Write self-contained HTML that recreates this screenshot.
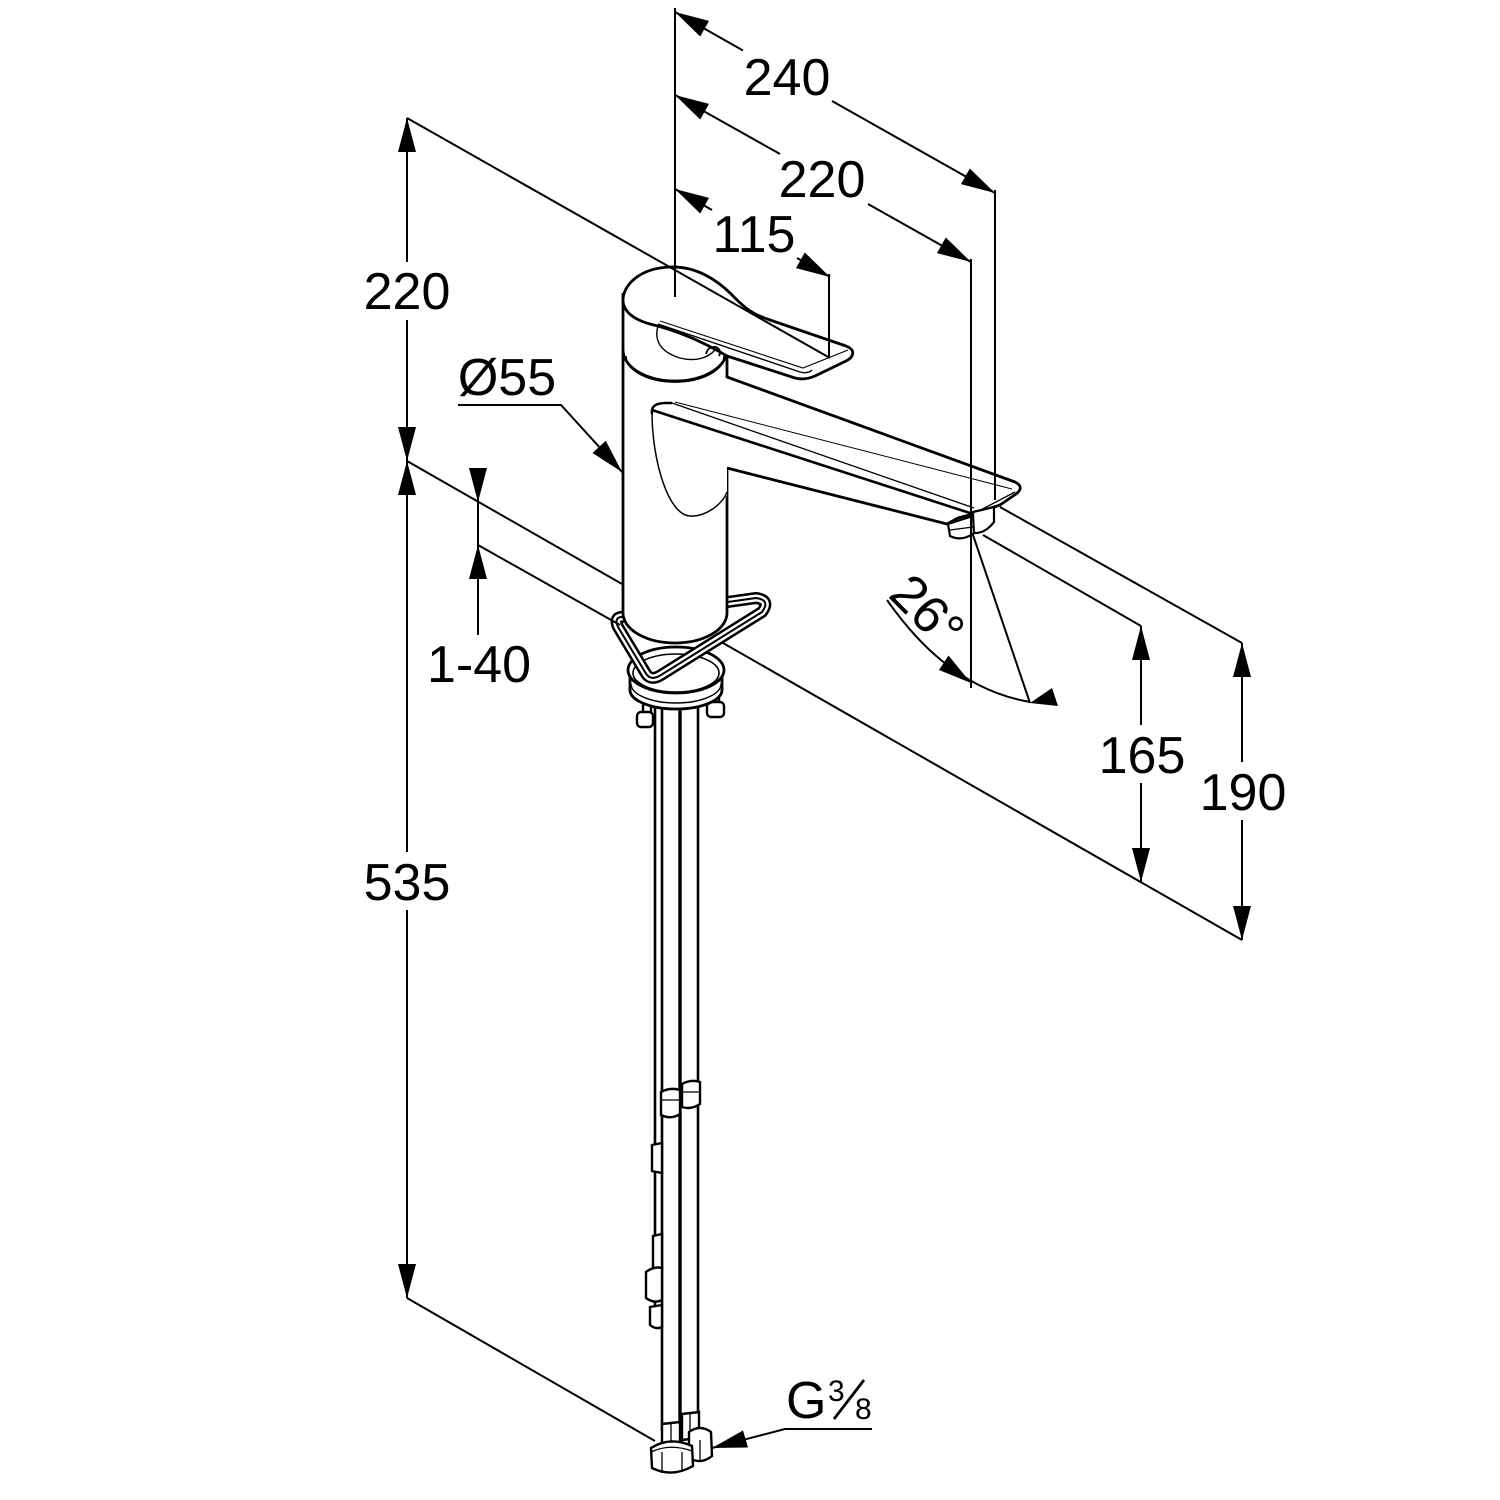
<!DOCTYPE html>
<html>
<head>
<meta charset="utf-8">
<style>
html,body{margin:0;padding:0;background:#fff;}
svg{display:block;}
text{font-family:"Liberation Sans",Arial,sans-serif;fill:#000;}
</style>
</head>
<body>
<svg width="1500" height="1500" viewBox="0 0 1500 1500" xmlns="http://www.w3.org/2000/svg">
<rect width="1500" height="1500" fill="#fff"/>

<!-- ===== pipes ===== -->
<g stroke="#000" fill="none" stroke-linecap="round">
  <line x1="655" y1="705" x2="655" y2="1327" stroke-width="2.6"/>
  <line x1="662" y1="700" x2="662" y2="1430" stroke-width="2.6"/>
  <line x1="680" y1="700" x2="680" y2="1430" stroke-width="3.4"/>
  <line x1="698" y1="700" x2="698" y2="1420" stroke-width="2.6"/>
</g>
<!-- fittings on pipes -->
<g stroke="#000" stroke-width="2.4" fill="#fff">
  <path d="M661,1092 Q670,1087 680,1090 L680,1114 Q671,1120 661,1115 Z"/>
  <line x1="661" y1="1100" x2="680" y2="1100" stroke-width="1.3"/>
  <path d="M682,1084 Q691,1079 700,1082 L700,1104 Q691,1110 682,1107 Z"/>
  <line x1="682" y1="1092" x2="700" y2="1092" stroke-width="1.3"/>
  <path d="M652,1145 L662,1143 L662,1173 L652,1171 Z"/>
  <path d="M653,1236 L662,1234 L662,1270 L653,1270 Z"/>
  <path d="M646,1272 Q654,1266 662,1268 L662,1300 Q654,1304 646,1298 Z"/>
  <path d="M650,1307 L662,1305 L662,1327 Q656,1330 650,1325 Z"/>
</g>
<!-- bottom nuts -->
<g stroke="#000" stroke-width="2.4" fill="#fff">
  <path d="M682,1414 L699,1412 L699,1438 L682,1440 Z"/>
  <line x1="690" y1="1414" x2="690" y2="1439" stroke-width="1.3"/>
  <path d="M689,1432 Q700,1424 711,1432 L712,1456 Q701,1465 689,1458 Z"/>
  <line x1="700" y1="1440" x2="700" y2="1462" stroke-width="1.3"/>
  <path d="M662,1424 L680,1422 L680,1448 L662,1450 Z"/>
  <line x1="671" y1="1424" x2="671" y2="1449" stroke-width="1.3"/>
  <path d="M651,1448 Q670,1436 692,1446 L693,1466 Q672,1478 652,1468 Z"/>
  <path d="M651,1452 Q670,1443 692,1451" fill="none" stroke-width="1.3"/>
  <line x1="662" y1="1452" x2="662" y2="1473" stroke-width="1.3"/>
  <line x1="682" y1="1452" x2="682" y2="1472" stroke-width="1.3"/>
</g>

<!-- ===== studs ===== -->
<g stroke="#000" stroke-width="2.4" fill="#fff">
  <rect x="643" y="698" width="8" height="16"/>
  <rect x="637" y="712" width="16" height="15" rx="4"/>
  <rect x="711" y="690" width="8" height="14"/>
  <rect x="707" y="702" width="17" height="15" rx="4"/>
</g>

<!-- ===== base ===== -->
<g stroke="#000" stroke-width="2.8" fill="#fff">
  <ellipse cx="676" cy="690" rx="46" ry="19"/>
  <rect x="630" y="668" width="92" height="22" stroke="none"/>
  <line x1="630" y1="670" x2="630" y2="690"/>
  <line x1="722" y1="670" x2="722" y2="690"/>
  <ellipse cx="676" cy="670" rx="48" ry="23"/>
  <ellipse cx="676" cy="673" rx="43" ry="19" fill="none" stroke-width="1.6"/>
  <path d="M631,684 A45,19 0 0 0 721,684" fill="none" stroke-width="1.4"/>
</g>

<!-- ===== triangle bracket ===== -->
<g fill="none" stroke-linejoin="round">
  <path d="M621,617 L756,598 Q771,600 762,612 L661,675 Q650,682 645,672 L618,627 Q614,618 621,617 Z" stroke="#000" stroke-width="12"/>
  <path d="M621,617 L756,598 Q771,600 762,612 L661,675 Q650,682 645,672 L618,627 Q614,618 621,617 Z" stroke="#fff" stroke-width="7"/>
  <path d="M621,617 L756,598 Q771,600 762,612 L661,675 Q650,682 645,672 L618,627 Q614,618 621,617 Z" stroke="#000" stroke-width="2"/>
</g>

<!-- ===== body ===== -->
<path d="M623,300 L727,300 L727,613 A52,30 0 0 1 623,613 Z" fill="#fff" stroke="none"/>
<g stroke="#000" stroke-width="2.8" fill="none">
  <line x1="623" y1="293" x2="623" y2="613"/>
  <line x1="727" y1="350" x2="727" y2="378"/>
  <line x1="727" y1="466" x2="727" y2="613"/>
  <path d="M623,613 A52,30 0 0 0 727,613"/>
  <!-- ring below handle -->
  <path d="M623,350 A52,31 0 0 0 727,350"/>
  <path d="M626,356 A49,26 0 0 0 724,356" stroke-width="1.6"/>
  <path d="M624,353 A51,29 0 0 0 726,353" stroke-width="1.4"/>
</g>

<!-- ===== spout ===== -->
<path d="M727,377 L1015,482 Q1025,487 1016,494 L1000,505 L973,514 L958,518 L947,524 L727,468 L727,495 C722,505 705,517 690,516 C668,515 652,460 652,412 Q650,403 665,403 L727,380 Z" fill="#fff" stroke="none"/>
<g stroke="#000" fill="none" stroke-linejoin="round">
  <path d="M727,377 L1015,482 Q1025,487 1016,494 L1000,505 L973,514" stroke-width="2.8"/>
  <path d="M727,468 L947,524 L958,518 L973,514" stroke-width="2.8"/>
  <path d="M652,414 Q650,403 666,403 L672,403" stroke-width="2.4"/>
  <line x1="652" y1="410" x2="973" y2="514" stroke-width="2.6"/>
  <line x1="672" y1="403" x2="974" y2="508" stroke-width="1.3"/>
  <line x1="675" y1="402" x2="1012" y2="489" stroke-width="1"/>
  <path d="M652,412 C652,460 668,515 690,516 C705,517 722,505 727,492" stroke-width="1.5"/>
  <line x1="973" y1="514" x2="1015" y2="492" stroke-width="1.3"/>
</g>
<!-- aerator -->
<g stroke="#000" stroke-width="2.2" fill="#fff">
  <path d="M973,512 L994,507 L994,522 Q985,534 973,533 Z"/>
  <path d="M948,524 L973,516 L974,533 Q962,542 950,536 Z"/>
  <line x1="950" y1="530" x2="973" y2="527" stroke-width="1.3"/>
</g>

<!-- ===== handle ===== -->
<path d="M623,300 C623,285 640,268 670,267 C695,266 716,278 735,298 C745,308 752,314 770,320 L846,346 C856,350 854,357 846,361 L815,376 C808,379 802,380 795,378 L727,356 C700,340 675,330 650,324 C635,320 623,312 623,300 Z" fill="#fff" stroke="#000" stroke-width="2.8" stroke-linejoin="round"/>
<g stroke="#000" fill="none">
  <path d="M658,324 L800,372 Q808,374 812,370" stroke-width="1.4"/>
  <path d="M660,321 L803,368 L848,350" stroke-width="1.1"/>
  <path d="M658,326 C654,340 660,352 680,358 C695,362 708,358 715,350" stroke-width="1.4"/>
  <path d="M706,354 Q708,346 716,347 Q722,350 719,356" stroke-width="1.8"/>
</g>

<!-- ===== dimension lines ===== -->
<g stroke="#000" stroke-width="2" fill="none">
  <line x1="675" y1="8" x2="675" y2="297"/>
  <line x1="995" y1="190" x2="995" y2="500"/>
  <line x1="971" y1="259" x2="971" y2="688"/>
  <line x1="829" y1="274" x2="829" y2="358"/>
  <line x1="675" y1="12" x2="743" y2="50.5"/>
  <line x1="832" y1="101" x2="995" y2="193"/>
  <line x1="675" y1="95" x2="780" y2="154"/>
  <line x1="868" y1="204" x2="971" y2="262"/>
  <line x1="675" y1="189" x2="712" y2="210"/>
  <line x1="797" y1="258" x2="830" y2="277"/>
  <line x1="407" y1="118" x2="830" y2="358"/>
  <line x1="407" y1="118" x2="407" y2="262"/>
  <line x1="407" y1="320" x2="407" y2="852"/>
  <line x1="407" y1="910" x2="407" y2="1298"/>
  <line x1="407" y1="461" x2="622" y2="584"/>
  <line x1="723" y1="643" x2="1242" y2="940"/>
  <line x1="407" y1="1298" x2="655" y2="1441"/>
  <line x1="478" y1="468" x2="478" y2="635"/>
  <line x1="478" y1="545" x2="620" y2="625"/>
  <polyline points="458,405 561,405 622,472"/>
  <line x1="1141" y1="626" x2="1141" y2="725"/>
  <line x1="1141" y1="783" x2="1141" y2="882"/>
  <line x1="1242" y1="643" x2="1242" y2="762"/>
  <line x1="1242" y1="820" x2="1242" y2="940"/>
  <line x1="983" y1="535" x2="1141" y2="626"/>
  <line x1="1000" y1="507" x2="1242" y2="643"/>
  <line x1="973" y1="535" x2="1030" y2="703"/>
  <path d="M887,600 C915,640 960,690 1030,702"/>
  <polyline points="712,1448 785,1429 872,1429"/>
</g>

<!-- ===== arrowheads ===== -->
<g fill="#000" stroke="none">
  <polygon points="675,12 709,20.9 700.2,36.5"/>
  <polygon points="995,193 961,184.1 969.8,168.5"/>
  <polygon points="675,95 709,103.9 700.2,119.5"/>
  <polygon points="971,262 937,253.1 945.8,237.5"/>
  <polygon points="675,189 709,197.9 700.2,213.5"/>
  <polygon points="830,277 796,268.1 804.8,252.5"/>
  <polygon points="622,472 592.5,453 605.8,440.8"/>
  <polygon points="712,1448 743,1430.5 748,1447.5"/>
  <polygon points="971,683 939,670 948.5,655.5"/>
  <polygon points="1030,703 1052,688 1058,706"/>
  <!-- vertical -->
  <polygon points="407,118 398,152 416,152"/>
  <polygon points="407,461 398,427 416,427"/>
  <polygon points="407,461 398,495 416,495"/>
  <polygon points="407,1298 398,1264 416,1264"/>
  <polygon points="478,502 469,468 487,468"/>
  <polygon points="478,545 469,579 487,579"/>
  <polygon points="1141,626 1132,660 1150,660"/>
  <polygon points="1141,882 1132,848 1150,848"/>
  <polygon points="1242,643 1233,677 1251,677"/>
  <polygon points="1242,940 1233,906 1251,906"/>
</g>

<!-- ===== labels ===== -->
<g font-size="52" text-anchor="middle">
  <text x="787" y="95">240</text>
  <text x="822" y="197">220</text>
  <text x="754" y="252">115</text>
  <text x="407" y="309">220</text>
  <text x="507" y="395">Ø55</text>
  <text x="479" y="682">1-40</text>
  <text x="407" y="900">535</text>
  <text x="1142" y="773">165</text>
  <text x="1243" y="810">190</text>
</g>
<text font-size="52" transform="translate(887,596) rotate(45)">26°</text>
<text x="786" y="1418" font-size="52">G</text>
<text x="828" y="1401" font-size="30">3</text>
<text x="855" y="1419" font-size="30">8</text>
<line x1="834" y1="1419" x2="864" y2="1380" stroke="#000" stroke-width="2.8"/>
</svg>
</body>
</html>
